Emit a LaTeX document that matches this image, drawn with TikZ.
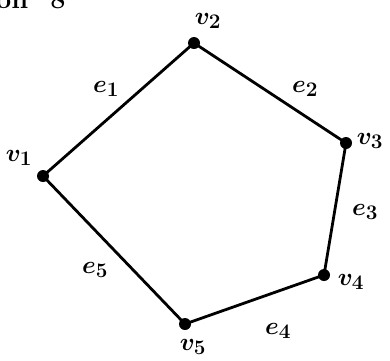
\documentclass[tikz,border=0pt]{standalone}
\begin{document}
\begin{tikzpicture}[x=1pt,y=-1pt,
  vtx/.style={circle,fill=black,inner sep=0pt,minimum size=12pt},
  edge/.style={line width=2.8pt,line cap=round},
  lbl/.style={font=\fontsize{32}{32}\selectfont\boldmath,inner sep=0pt},
  hdr/.style={font=\fontsize{27}{27}\selectfont\bfseries,inner sep=0pt,anchor=base west}]
\useasboundingbox (0,0) rectangle (390,360);
\node[hdr] (h) at (-4,8) {on\hspace{22pt}8};
\node[vtx] (v1) at (43,176) {};
\node[vtx] (v2) at (194,43) {};
\node[vtx] (v3) at (346,143) {};
\node[vtx] (v4) at (324,275) {};
\node[vtx] (v5) at (185,324) {};
\draw[edge] (v1.center) -- (v2.center) -- (v3.center) -- (v4.center) -- (v5.center) -- (v1.center);
\node[lbl] (l1) at (19,158) {$v_1$};
\node[lbl] (l2) at (208,21) {$v_2$};
\node[lbl] (l3) at (370,141) {$v_3$};
\node[lbl] (l4) at (351,282) {$v_4$};
\node[lbl] (l5) at (193,347) {$v_5$};
\node[lbl] (e1) at (106,89) {$e_1$};
\node[lbl] (e2) at (305,89) {$e_2$};
\node[lbl] (e3) at (365,212) {$e_3$};
\node[lbl] (e4) at (278,331) {$e_4$};
\node[lbl] (e5) at (95,270) {$e_5$};
\end{tikzpicture}
\end{document}
